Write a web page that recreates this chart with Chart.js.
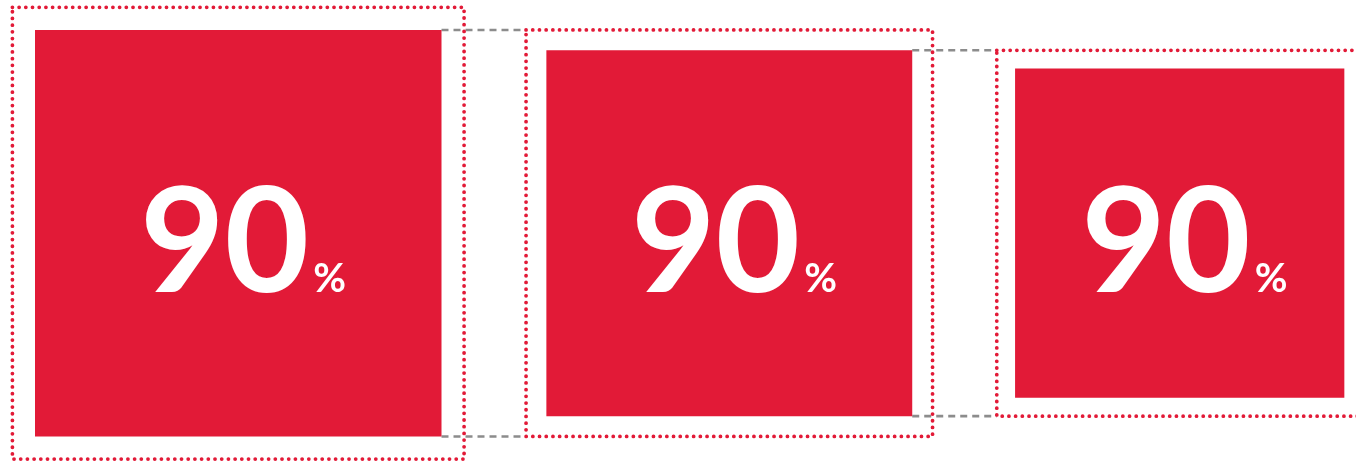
<!DOCTYPE html>
<html>
<head>
<meta charset="utf-8">
<script src="https://cdn.jsdelivr.net/npm/chart.js@4.4.1/dist/chart.umd.min.js"></script>
<style>
  html, body { margin: 0; padding: 0; background: #fff; }
  #caixa { width: 1356px; height: 461px; }
</style>
</head>
<body>
<div id="caixa"><canvas id="graficoQuadros"></canvas></div>
<script>
// lado de cada quadrado (o primeiro vale 100)
const tamanhos = [100, 90, 81];
// quanto cada quadrado representa da sua moldura (= quadrado anterior)
const percentuais = [90, 90, 90];
const rotulos = ['90', '90', '90'];
const sufixo = '%';

const vermelho = '#e21a37';
const cinza = '#8c8c8c';
const espaco = 20.8;

function retangulo(esq, lado) {
  const m = lado / 2;
  return [
    {x: esq, y: m}, {x: esq + lado, y: m},
    {x: esq + lado, y: -m}, {x: esq, y: -m}, {x: esq, y: m}
  ];
}

const datasets = [];
const centros = [];
let direitaAnterior = null;

tamanhos.forEach((lado, i) => {
  const moldura = lado * 100 / percentuais[i];
  const folga = (moldura - lado) / 2;
  const esq = direitaAnterior === null ? 0 : direitaAnterior + espaco + folga;

  // quadrado cheio
  datasets.push({
    data: retangulo(esq, lado),
    fill: 'shape',
    backgroundColor: vermelho,
    borderColor: 'rgba(0,0,0,0)',
    borderWidth: 1,
    order: 1
  });

  // moldura pontilhada
  datasets.push({
    data: retangulo(esq - folga, moldura),
    fill: false,
    borderColor: vermelho,
    borderWidth: 3.8,
    borderDash: [0, 6.7],
    borderCapStyle: 'round',
    order: 2
  });

  // linhas tracejadas ligando ao quadrado anterior
  if (direitaAnterior !== null) {
    const m = moldura / 2;
    [m, -m].forEach(y => {
      datasets.push({
        data: [{x: direitaAnterior, y: y}, {x: esq - folga, y: y}],
        fill: false,
        borderColor: cinza,
        borderWidth: 2.6,
        borderDash: [7, 5],
        order: 3
      });
    });
  }

  centros.push(esq + lado / 2);
  direitaAnterior = esq + lado;
});

const textoPercentual = {
  id: 'textoPercentual',
  afterDatasetsDraw(chart) {
    const ctx = chart.ctx;
    const {x, y} = chart.scales;
    ctx.save();
    ctx.fillStyle = '#ffffff';
    ctx.textBaseline = 'alphabetic';
    centros.forEach((c, i) => {
      const px = x.getPixelForValue(c);
      const py = y.getPixelForValue(0);
      ctx.font = '700 146px Lato';
      ctx.textAlign = 'right';
      ctx.fillText(rotulos[i], px + 71, py + 59);
      ctx.font = '700 40px Lato';
      ctx.textAlign = 'left';
      ctx.fillText(sufixo, px + 75, py + 59);
    });
    ctx.restore();
  }
};

const unidade = 4.065;
new Chart(document.getElementById('graficoQuadros'), {
  type: 'line',
  data: { datasets: datasets },
  options: {
    responsive: true,
    maintainAspectRatio: false,
    animation: false,
    layout: { padding: 0 },
    elements: { point: { radius: 0 }, line: { tension: 0 } },
    plugins: { legend: { display: false }, tooltip: { enabled: false } },
    scales: {
      x: { type: 'linear', display: false, min: -35 / unidade, max: (1356 - 35) / unidade },
      y: { type: 'linear', display: false, min: -(461 - 233.2) / unidade, max: 233.2 / unidade }
    }
  },
  plugins: [textoPercentual]
});
</script>
</body>
</html>
